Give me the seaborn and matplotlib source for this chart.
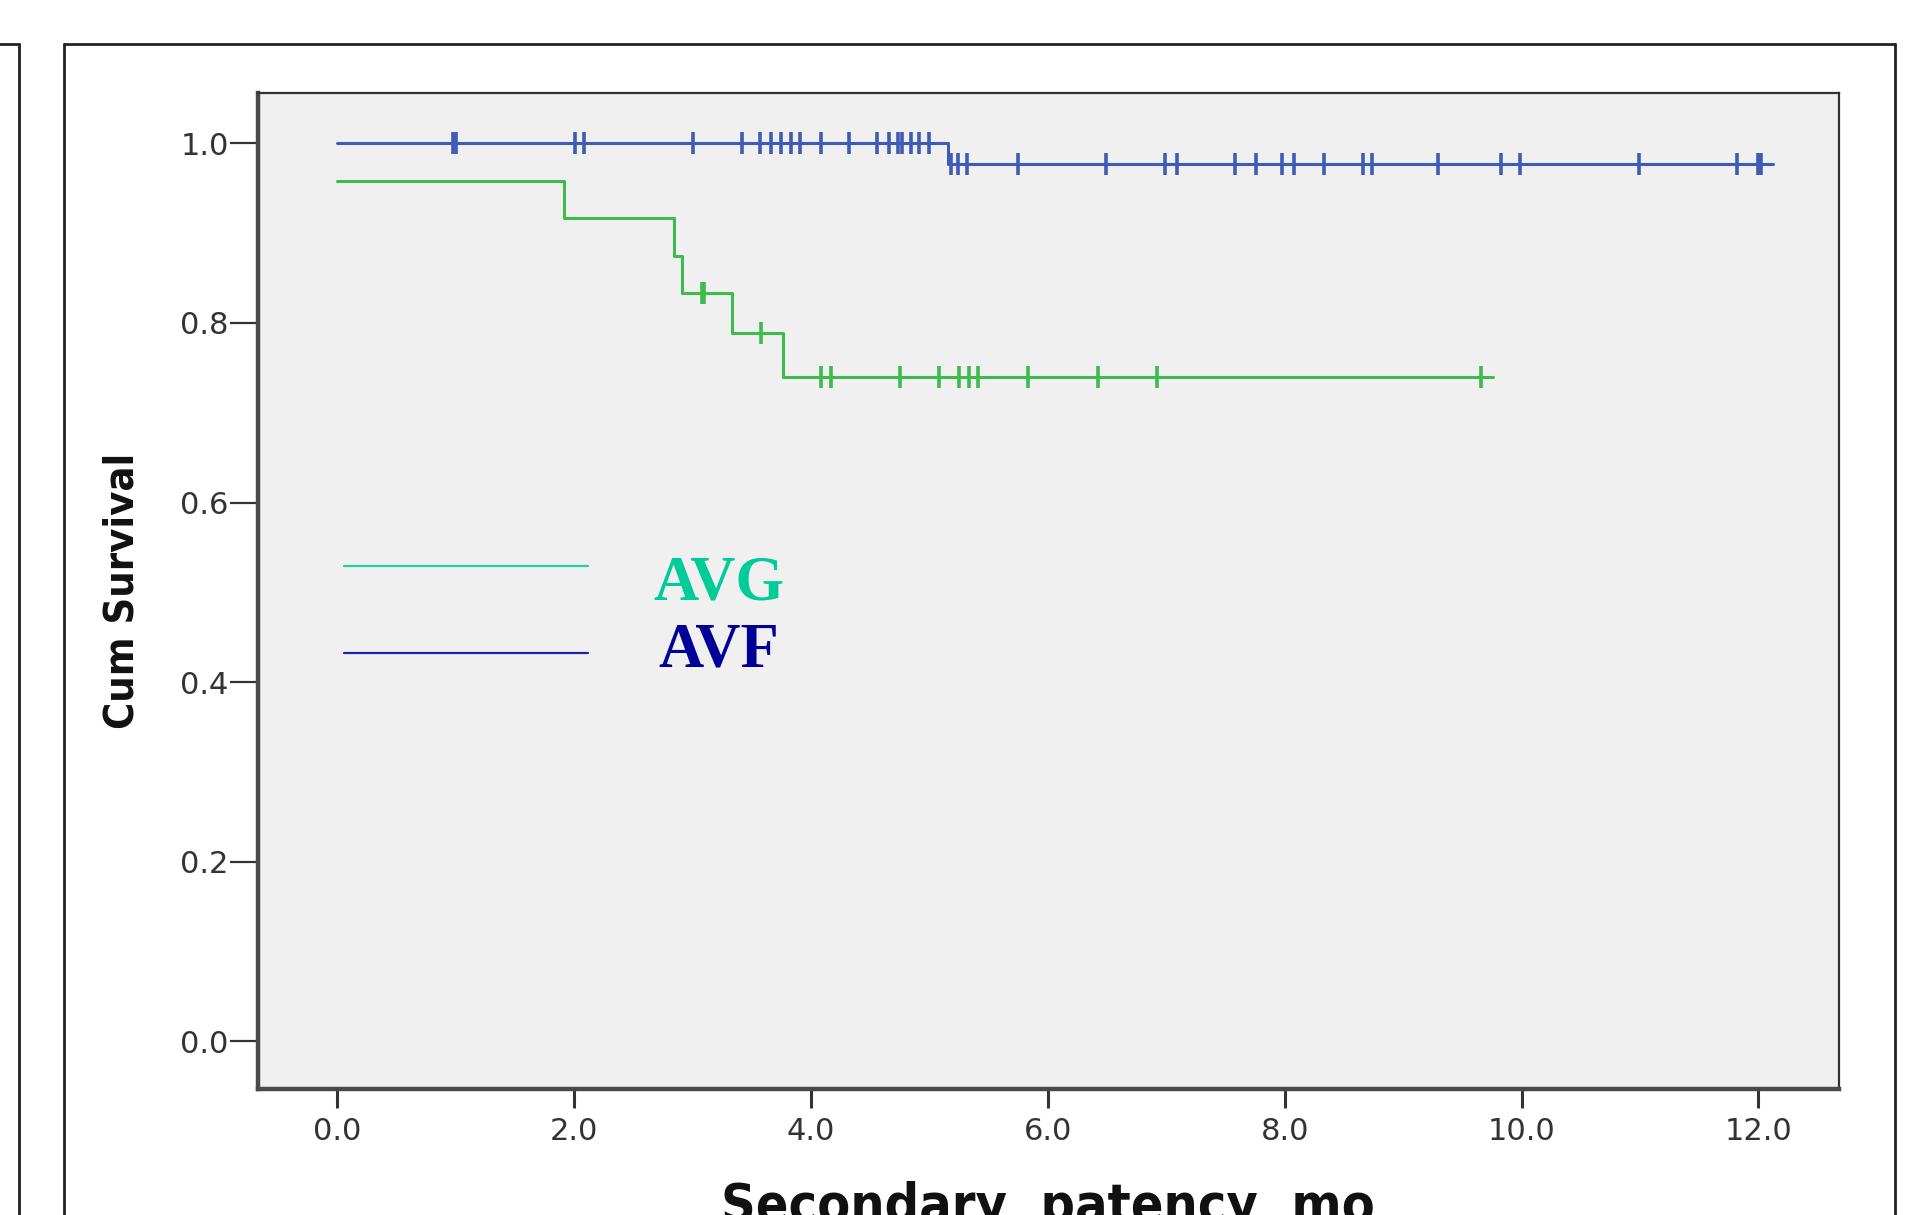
import numpy as np
import pandas as pd
import seaborn as sns
from matplotlib import pyplot as plt
from matplotlib import font_manager
from matplotlib.lines import Line2D

# Kaplan-Meier steps (months, cumulative survival)
avg_times = [0.0, 1.91, 2.84, 2.91, 3.33, 3.76, 9.76]
avg_surv = [0.958, 0.917, 0.875, 0.833, 0.789, 0.740, 0.740]
avg_censored = [3.08, 3.10, 3.58, 4.08, 4.17, 4.75, 5.08, 5.25, 5.33, 5.41,
                5.83, 6.42, 6.92, 9.66]

avf_times = [0.0, 5.16, 12.12]
avf_surv = [1.0, 0.977, 0.977]
avf_censored = [0.98, 1.0, 2.01, 2.08, 3.0, 3.42, 3.57, 3.66, 3.75, 3.83, 3.91,
                4.08, 4.32, 4.56, 4.66, 4.73, 4.77, 4.84, 4.91, 5.0,
                5.18, 5.24, 5.32, 5.75, 6.49, 6.99, 7.09, 7.58, 7.76, 7.98,
                8.08, 8.33, 8.66, 8.74, 9.29, 9.83, 9.99, 10.99, 11.82, 12.0,
                12.02]

x_ticks = [0, 2, 4, 6, 8, 10, 12]
y_ticks = [0.0, 0.2, 0.4, 0.6, 0.8, 1.0]

curve_colors = {'AVG': '#3dbb4e', 'AVF': '#3e5cb5'}
legend_colors = {'AVG': '#00cc99', 'AVF': '#000099'}


def has_font(name):
    try:
        font_manager.findfont(font_manager.FontProperties(family=name),
                              fallback_to_default=False)
        return True
    except Exception:
        return False


narrow = 'Liberation Sans Narrow' if has_font('Liberation Sans Narrow') else 'DejaVu Sans'

sns.set_style('white')
plt.rcParams['font.family'] = ['DejaVu Sans']


def step_value(times, surv, t):
    i = np.searchsorted(times, t, side='right') - 1
    return surv[i]


curves = pd.concat([
    pd.DataFrame({'time': avg_times, 'surv': avg_surv, 'group': 'AVG'}),
    pd.DataFrame({'time': avf_times, 'surv': avf_surv, 'group': 'AVF'}),
])
marks = pd.concat([
    pd.DataFrame({'time': avg_censored,
                  'surv': [step_value(avg_times, avg_surv, t) for t in avg_censored],
                  'group': 'AVG'}),
    pd.DataFrame({'time': avf_censored,
                  'surv': [step_value(avf_times, avf_surv, t) for t in avf_censored],
                  'group': 'AVF'}),
])

W, H = 1922, 1215
fig = plt.figure(figsize=(W / 100, H / 100), dpi=100)
ax = fig.add_axes([258 / W, 1 - 1089 / H, (1839 - 258) / W, (1089 - 93) / H])
ax.set_facecolor('#f0f0f0')

for g in ['AVG', 'AVF']:
    d = curves[curves['group'] == g]
    sns.lineplot(data=d, x='time', y='surv', drawstyle='steps-post',
                 estimator=None, sort=False, color=curve_colors[g],
                 linewidth=2.2, ax=ax, legend=False)
    m = marks[marks['group'] == g]
    ax.plot(m['time'], m['surv'], linestyle='', marker='|', markersize=16,
            markeredgewidth=2.6, color=curve_colors[g])

# hand-made legend inside the plot
ax.plot([0.06, 2.12], [0.529, 0.529], color='#22d0a0', linewidth=1.6)
ax.plot([0.06, 2.12], [0.433, 0.433], color='#2222a8', linewidth=1.6)
ax.text(2.67, 0.509, 'AVG', color=legend_colors['AVG'], fontsize=45,
        fontweight='bold', family='Liberation Serif', va='center', ha='left')
ax.text(2.71, 0.434, 'AVF', color=legend_colors['AVF'], fontsize=45,
        fontweight='bold', family='Liberation Serif', va='center', ha='left')

ax.set_xlim(-0.67, 12.68)
ax.set_ylim(-0.053, 1.056)
ax.set_xticks(x_ticks)
ax.set_xticklabels([f'{v:.1f}' for v in x_ticks])
ax.set_yticks(y_ticks)
ax.set_yticklabels([f'{v:.1f}' for v in y_ticks])
ax.set_xlabel('')
ax.set_ylabel('')
ax.tick_params(axis='y', length=20, width=1.6, pad=1, labelsize=22,
               colors='#333333', left=True)
ax.tick_params(axis='x', length=14, width=2.2, pad=6, labelsize=22,
               colors='#333333', bottom=True)

for side in ['left', 'bottom']:
    ax.spines[side].set_linewidth(3.2)
    ax.spines[side].set_color('#4a4a4a')
for side in ['top', 'right']:
    ax.spines[side].set_linewidth(1.6)
    ax.spines[side].set_color('#333333')

ylab = fig.text(123 / W, 1 - 591 / H, 'Cum Survival', rotation=90, ha='center',
                va='center', fontsize=36, fontweight='bold', family=narrow,
                fontstretch='condensed', color='#111111')
xlab = fig.text(1048 / W, 1 - 1181 / H, 'Secondary  patency  mo', ha='center',
                va='top', fontsize=46, fontweight='bold', family=narrow,
                fontstretch='condensed', color='#111111')

# fit label sizes to the lengths seen in the picture
fig.canvas.draw()
renderer = fig.canvas.get_renderer()
bb = ylab.get_window_extent(renderer)
ylab.set_fontsize(ylab.get_fontsize() * 276 / bb.height)
bb = xlab.get_window_extent(renderer)
xlab.set_fontsize(xlab.get_fontsize() * 654 / bb.width)


def frame_line(x0, y0, x1, y1):
    fig.add_artist(Line2D([x0 / W, x1 / W], [1 - y0 / H, 1 - y1 / H],
                          transform=fig.transFigure, color='#222222',
                          linewidth=2))


frame_line(0, 44, 19, 44)
frame_line(19, 44, 19, H)
frame_line(64, 44, 1895, 44)
frame_line(64, 44, 64, H)
frame_line(1895, 44, 1895, H)

fig.savefig('out.png', dpi=100)
